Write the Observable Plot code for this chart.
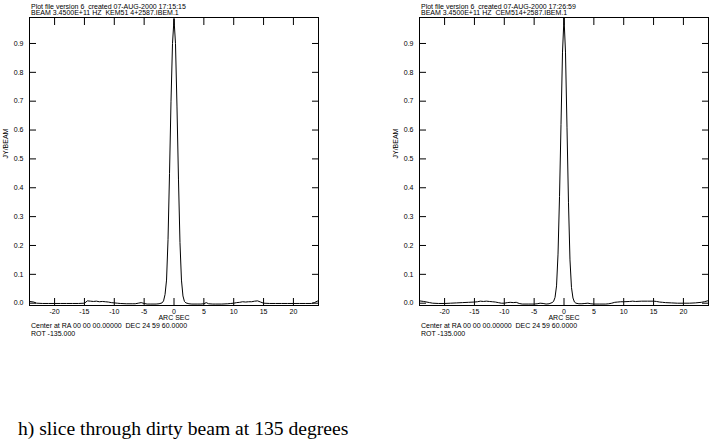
<!DOCTYPE html>
<html><head><meta charset="utf-8">
<script src="https://cdn.jsdelivr.net/npm/d3@7"></script>
<script src="https://cdn.jsdelivr.net/npm/@observablehq/plot@0.6"></script>
<style>
html,body{margin:0;padding:0;background:#fff;}
#page{position:relative;width:709px;height:444px;overflow:hidden;background:#fff;}
.panel{position:absolute;top:0;}
#caption{position:absolute;left:18px;top:419px;font-family:"Liberation Serif",serif;font-size:19.6px;line-height:19px;color:#000;white-space:nowrap;}
</style></head>
<body><div id="page"><div id="p1" class="panel" style="left:0"></div><div id="p2" class="panel" style="left:390px"></div><div id="caption">h) slice through dirty beam at 135 degrees</div></div>
<script>
// Slice values [arc sec, Jy/beam]
const sliceKEM = [
[-24.2,0.006],[-23.5,0.004],[-23.0,0.0],[-22,-0.001],[-21,-0.001],[-20,-0.001],[-19,-0.001],[-18,-0.001],[-17,-0.001],[-16,-0.001],
[-15,0.0],[-14.5,0.008],[-14,0.007],[-13.5,0.006],[-13,0.007],[-12.5,0.005],[-12,0.006],[-11.5,0.005],[-11,0.004],[-10.5,0.002],
[-10,0.001],[-9.5,0.0],[-9,-0.001],[-8,-0.002],[-7,-0.002],[-6.5,-0.002],[-6,0.0],[-5.5,0.002],[-5,-0.001],[-4.5,-0.003],
[-4,-0.003],[-3,-0.003],[-2.5,-0.002],[-2,0.001],[-1.75,0.008],[-1.5,0.03],[-1.25,0.08],[-1.0,0.22],[-0.75,0.45],[-0.5,0.70],
[-0.25,0.90],[0,0.985],[0.25,0.90],[0.5,0.68],[0.75,0.43],[1.0,0.21],[1.25,0.08],[1.5,0.025],[1.75,0.006],[2.0,0.001],
[2.5,-0.002],[3.0,-0.003],[4.0,-0.003],[4.5,-0.003],[5.0,-0.002],[5.4,0.002],[5.8,-0.002],[6.5,-0.003],[7.0,-0.003],[8.0,-0.003],
[9.0,-0.002],[9.5,-0.001],[10.0,0.0],[10.5,0.002],[11.0,0.003],[11.5,0.005],[12.0,0.004],[12.5,0.005],[13.0,0.005],[13.5,0.007],
[14.0,0.008],[14.5,0.004],[15.0,0.0],[16,-0.001],[17,-0.001],[18,-0.001],[19,-0.001],[20,-0.001],[21,-0.001],[22,-0.001],
[23,-0.001],[23.5,0.002],[24.2,0.009]
];
const sliceCEM = [
[-24.2,0.008],[-23.5,0.006],[-22.5,0.002],[-22,0.0],[-21,-0.001],[-20,-0.001],[-19,0.0],[-18,0.001],[-17,0.002],[-16,0.003],
[-15,0.004],[-14.5,0.005],[-14,0.007],[-13.5,0.006],[-13,0.007],[-12.5,0.006],[-12,0.005],[-11.5,0.004],[-11,0.002],[-10.5,0.0],
[-10,0.0],[-9.5,0.002],[-9,0.003],[-8.5,0.002],[-8,0.003],[-7.5,-0.001],[-7,-0.003],[-6,-0.003],[-5,-0.003],[-4.5,-0.002],
[-4,0.0],[-3.5,-0.001],[-3,-0.003],[-2.5,-0.002],[-2,0.002],[-1.75,0.006],[-1.5,0.02],[-1.25,0.06],[-1.0,0.17],[-0.75,0.37],
[-0.5,0.62],[-0.25,0.87],[0,0.99],[0.25,0.87],[0.5,0.61],[0.75,0.35],[1.0,0.15],[1.25,0.055],[1.5,0.018],[1.75,0.004],
[2,0.0],[2.5,-0.002],[3,-0.002],[3.5,-0.001],[4,0.0],[4.5,-0.002],[5,-0.003],[6,-0.003],[7,-0.003],[7.5,-0.002],
[8,0.0],[8.5,0.003],[9,0.004],[9.5,0.005],[10,0.005],[11,0.006],[11.5,0.007],[12,0.006],[13,0.007],[14,0.007],
[15,0.007],[15.5,0.006],[16,0.004],[16.5,0.003],[17,0.002],[18,0.001],[19,0.0],[20,0.0],[21,0.0],[22,0.001],
[23,0.003],[23.5,0.005],[24.2,0.009]
];
const xDomain = [-24.2, 24.2];
const yDomain = [-0.008, 0.99];
const xTicks = [-20, -15, -10, -5, 0, 5, 10, 15, 20];
const yTicks = [0.0, 0.1, 0.2, 0.3, 0.4, 0.5, 0.6, 0.7, 0.8, 0.9];
const headers1 = ["Plot file version 6\u00a0 created 07-AUG-2000 17:15:15", "Plot file version 6\u00a0 created 07-AUG-2000 17:26:59"];
const headers2 = ["BEAM 3.4500E+11 HZ\u00a0 KEM51 4+2587.IBEM.1", "BEAM 3.4500E+11 HZ\u00a0 CEM514+2587.IBEM.1"];
const yLabel = "JY/BEAM";
const xLabel = "ARC SEC";
const footers1 = ["Center at RA 00 00 00.00000\u00a0 DEC 24 59 60.0000", "Center at RA 00 00 00.00000\u00a0 DEC 24 59 60.0000"];
const footers2 = ["ROT -135.000", "ROT -135.000"];

function panel(slice, i) {
  const data = slice.map(([x, y]) => ({x, y}));
  const t = (s, opts) => Plot.text([s], {text: d => d, fill: "black", ...opts});
  return Plot.plot({
    width: 319, height: 340,
    marginLeft: 29, marginRight: 1, marginTop: 17, marginBottom: 35,
    style: {fontFamily: "'Liberation Sans', Arial, sans-serif", fontSize: "7px", background: "#fff", color: "#000", overflow: "visible"},
    x: {domain: xDomain},
    y: {domain: yDomain},
    marks: [
      Plot.frame({stroke: "black"}),
      Plot.axisX({anchor: "bottom", ticks: xTicks, tickSize: -7, tickPadding: 11, tickFormat: d => String(d), label: null}),
      Plot.axisX({anchor: "top", ticks: xTicks, tickSize: -7, tickFormat: () => "", label: null}),
      Plot.axisY({anchor: "left", ticks: yTicks, tickSize: -7, tickPadding: 13, tickFormat: d3.format(".1f"), label: null}),
      Plot.axisY({anchor: "right", ticks: yTicks, tickSize: -7, tickFormat: () => "", label: null}),
      Plot.line(data, {x: "x", y: "y", stroke: "black", strokeWidth: 1}),
      t(headers1[i], {frameAnchor: "top-left", textAnchor: "start", dx: 1.5, dy: -13}),
      t(headers2[i], {frameAnchor: "top-left", textAnchor: "start", dx: 1.5, dy: -7}),
      t(yLabel, {frameAnchor: "left", rotate: -90, dx: -24, dy: -3}),
      t(xLabel, {frameAnchor: "bottom", dy: 14.5}),
      t(footers1[i], {frameAnchor: "bottom-left", textAnchor: "start", dx: 1.5, dy: 22.5}),
      t(footers2[i], {frameAnchor: "bottom-left", textAnchor: "start", dx: 1.5, dy: 30})
    ]
  });
}
document.getElementById("p1").append(panel(sliceKEM, 0));
document.getElementById("p2").append(panel(sliceCEM, 1));
</script>
</body></html>
